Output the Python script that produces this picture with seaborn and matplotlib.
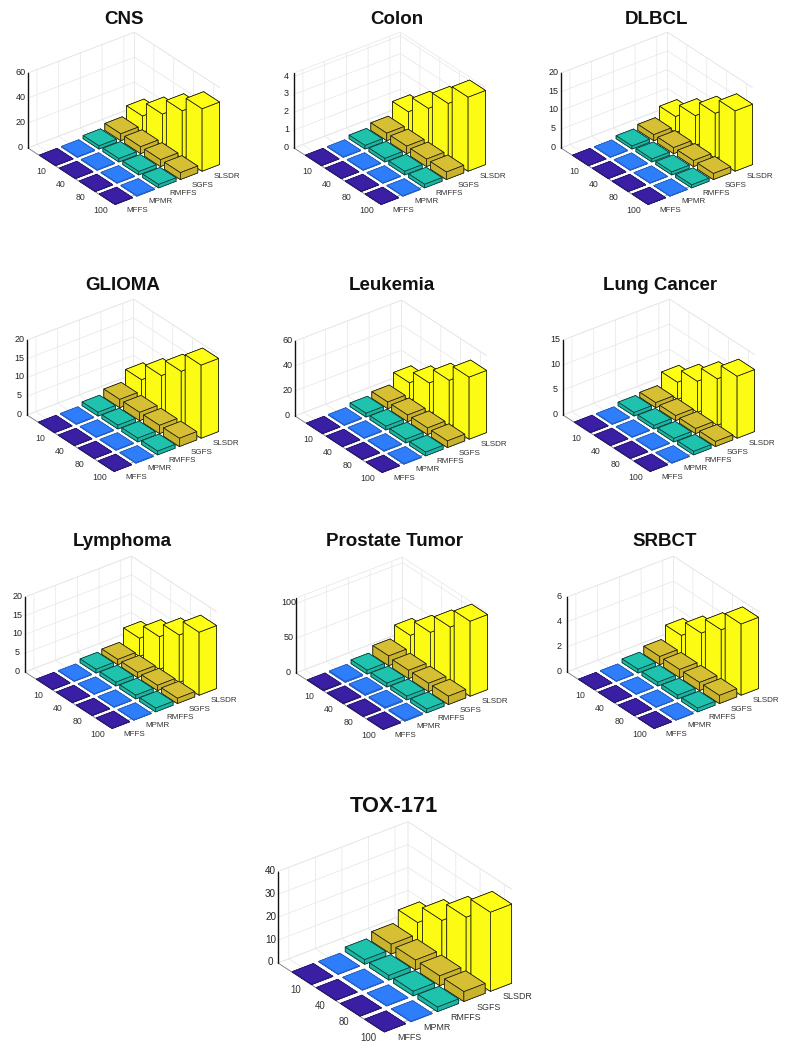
import numpy as np
import seaborn as sns
import matplotlib
matplotlib.use("Agg")
import matplotlib.pyplot as plt
from mpl_toolkits.mplot3d import proj3d

sns.set_theme(style="white")
plt.rcParams['font.family'] = ['Liberation Sans', 'DejaVu Sans']

methods = ['MFFS', 'MPMR', 'RMFFS', 'SGFS', 'SLSDR']
features = ['10', '40', '80', '100']

# each row: one method, values for 10, 40, 80, 100 features
CNS = [[0.3, 0.3, 0.3, 0.3], [0.5, 0.5, 0.5, 0.5], [2.5, 2.7, 2.7, 2.7], [5.5, 5.5, 5.5, 5.5], [13, 25, 38, 50]]
Colon = [[0.02, 0.02, 0.02, 0.02], [0.03, 0.03, 0.03, 0.03], [0.2, 0.2, 0.2, 0.2], [0.42, 0.42, 0.42, 0.42], [1.15, 2.07, 3.07, 4.15]]
DLBCL = [[0.08, 0.08, 0.08, 0.08], [0.1, 0.1, 0.1, 0.1], [0.8, 0.8, 0.8, 0.8], [1.6, 1.6, 1.6, 1.6], [4.2, 7.9, 12, 16.1]]
GLIOMA = [[0.1, 0.1, 0.1, 0.1], [0.15, 0.15, 0.15, 0.15], [1, 1, 1, 1], [2.2, 2.2, 2.2, 2.2], [5.2, 9.8, 14.4, 19.5]]
Leukemia = [[0.3, 0.3, 0.3, 0.3], [0.5, 0.5, 0.5, 0.5], [3, 3, 3, 3], [5.3, 5.3, 5.3, 5.3], [14, 24.3, 36.8, 49.7]]
Lung = [[0.1, 0.1, 0.1, 0.1], [0.1, 0.1, 0.1, 0.1], [0.7, 0.7, 0.7, 0.7], [1, 1, 1, 1], [3.4, 6.2, 9.3, 12.4]]
Lymphoma = [[0.1, 0.1, 0.1, 0.1], [0.1, 0.1, 0.1, 0.1], [1, 1, 1, 1], [1.4, 1.4, 1.4, 1.4], [4.8, 8.7, 12.6, 16.8]]
Prostate = [[1, 1, 1, 1], [1.5, 1.5, 1.5, 1.5], [5.5, 5.5, 5.5, 5.5], [14, 12, 12, 12], [31.6, 54.7, 81, 108]]
SRBCT = [[0.02, 0.02, 0.02, 0.02], [0.03, 0.03, 0.03, 0.03], [0.3, 0.3, 0.3, 0.3], [0.65, 0.65, 0.65, 0.65], [1.67, 2.9, 4.2, 5.7]]
TOX = [[0.15, 0.15, 0.15, 0.15], [0.2, 0.2, 0.2, 0.2], [2, 2, 2, 2], [4.3, 4.3, 4.3, 4.3], [9.3, 17.2, 25.5, 34.6]]

# title, values, z limit, z ticks, left corner x, floor y, scale, title x, title y
panels = [
    ('CNS', CNS, 60, [0, 20, 40, 60], 28, 148, 1, 124, 20),
    ('Colon', Colon, 4.2, [0, 1, 2, 3, 4], 294, 148, 1, 397, 20),
    ('DLBCL', DLBCL, 20, [0, 5, 10, 15, 20], 561, 148, 1, 657, 20),
    ('GLIOMA', GLIOMA, 20, [0, 5, 10, 15, 20], 27, 415, 1, 123, 286),
    ('Leukemia', Leukemia, 60, [0, 20, 40, 60], 295, 416, 1, 392, 286),
    ('Lung Cancer', Lung, 15, [0, 5, 10, 15], 563, 415, 1, 660, 286),
    ('Lymphoma', Lymphoma, 20, [0, 5, 10, 15, 20], 25, 672, 1, 122, 541),
    ('Prostate Tumor', Prostate, 108, [0, 50, 100], 296, 673, 1, 394, 541),
    ('SRBCT', SRBCT, 6, [0, 2, 4, 6], 567, 672, 1, 665, 541),
    ('TOX-171', TOX, 40, [0, 10, 20, 30, 40], 278, 963, 1.22, 394, 807),
]

top_colors = ['#3a1fa5', '#2e7dfa', '#1fc2ad', '#d6bf33', '#ffff14']
side_colors = ['#34209a', '#2a74ea', '#1cb5a2', '#c9b22c', '#fbfb14']
edge_colors = ['#2a1a70', '#2560c0', '#0a3a38', '#1a1a08', '#111100']

W, H, DPI = 799, 1050, 100
fig = plt.figure(figsize=(W / DPI, H / DPI), dpi=DPI, facecolor='white')

XLIM = (0.59, 5.49)
YLIM = (0.7, 4.975)


def to_px(ax, x, y, z):
    ax.M = ax.get_proj()
    a, b, _ = proj3d.proj_transform(x, y, z, ax.M)
    return ax.transData.transform((a, b))


for title, values, zmax, zticks, cx, cy, scale, tx, ty in panels:
    size = 300.0
    ax = fig.add_axes([0.1, 0.1, size / W, size / H], projection='3d')
    ax.set_proj_type('ortho')
    ax.view_init(elev=30, azim=-127.5)
    ax.set_box_aspect((403, 419, 260))
    ax.set_xlim(*XLIM)
    ax.set_ylim(*YLIM)
    ax.set_zlim(0, zmax)
    ax.computed_zorder = False
    ax.patch.set_alpha(0)

    # fit the box to the reference's pixel position
    for _ in range(2):
        ax.apply_aspect()
        p0 = to_px(ax, XLIM[0], YLIM[1], 0)
        p1 = to_px(ax, XLIM[0], YLIM[1], zmax)
        size *= (75.0 * scale) / (p1[1] - p0[1])
        ax.set_position([0.1, 0.1, size / W, size / H])
    ax.apply_aspect()
    p0 = to_px(ax, XLIM[0], YLIM[1], 0)
    target = (cx, H - cy)
    ax.set_position([0.1 + (target[0] - p0[0]) / W, 0.1 + (target[1] - p0[1]) / H, size / W, size / H])

    # back-to-front so nearer bars cover farther ones
    for i in range(len(methods) - 1, -1, -1):
        for j, _f in enumerate(features):
            h = values[i][j]
            xc = i + 1
            yc = 4 - j
            ax.bar3d(xc - 0.4, yc - 0.4, 0, 0.8, 0.8, h,
                     color=[side_colors[i], top_colors[i]] + [side_colors[i]] * 4,
                     edgecolor=edge_colors[i], linewidth=0.5, shade=False,
                     zorder=10 + (4 - i) * 10 + j)

    fs = 5.8 * (scale ** 0.5)
    ax.set_xticks(np.arange(1, 6))
    ax.set_xticklabels(methods, fontsize=fs, color='#333333', ha='left')
    ax.set_yticks([4, 3, 2, 1])
    ax.set_yticklabels(features, fontsize=fs + 0.5, color='#333333')
    ax.set_zticks(zticks)
    ax.set_zticklabels([str(v) for v in zticks], fontsize=fs + 0.7, color='#222222', va='center')
    ax.tick_params(axis='x', pad=-4)
    ax.tick_params(axis='y', pad=-3.5)
    ax.tick_params(axis='z', pad=-5)

    for axis in (ax.xaxis, ax.yaxis, ax.zaxis):
        axis.set_pane_color((1, 1, 1, 1))
        axis.pane.set_edgecolor('#e6e6e6')
        axis.pane.set_linewidth(0.5)
        axis._axinfo['grid'].update(color='#e8e8e8', linewidth=0.55)
        axis._axinfo['tick'].update(inward_factor=0.0, outward_factor=0.05)
        axis._axinfo['tick']['linewidth'] = {True: 0.4, False: 0.3}
    ax.xaxis.line.set_color('#999999')
    ax.yaxis.line.set_color('#777777')
    ax.zaxis.line.set_color('#111111')
    ax.xaxis.line.set_linewidth(0.5)
    ax.yaxis.line.set_linewidth(0.6)
    ax.zaxis.line.set_linewidth(1.0)

    t = ax.set_title(title, x=tx / W, y=1 - ty / H, transform=fig.transFigure,
                     fontsize=13.5 * (1.17 if scale > 1 else 1), fontweight='bold',
                     color='#111111', va='center', ha='center')
    t.set_position((tx / W, 1 - ty / H))

fig.savefig('out.png', dpi=DPI, facecolor='white')
